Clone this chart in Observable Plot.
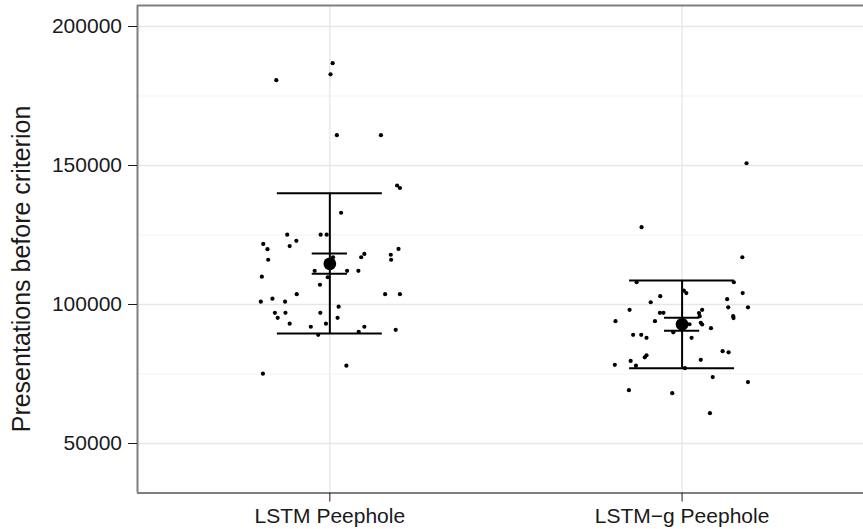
<!DOCTYPE html>
<html>
<head>
<meta charset="utf-8">
<script src="https://cdn.jsdelivr.net/npm/d3@7"></script>
<script src="https://cdn.jsdelivr.net/npm/@observablehq/plot@0.6"></script>
<style>
  html, body { margin: 0; padding: 0; background: #ffffff; }
  #chart { width: 863px; height: 529px; }
</style>
</head>
<body>
<div id="chart"></div>
<script>
// ---- data ----
const categories = ["LSTM Peephole", "LSTM\u2212g Peephole"];
const yTicks = [50000, 100000, 150000, 200000];
const yMinorTicks = [75000, 125000, 175000];
const yTitle = "Presentations before criterion";

// group 1: horizontal jitter (category units) and value
const lstmJitter = [0.008, 0.002, -0.152, 0.020, 0.145, 0.191, 0.199, 0.032, -0.121, -0.026, -0.009, -0.095, -0.189, -0.114, -0.177, 0.195, 0.098, 0.089, 0.173, -0.175, 0.174, 0.009, -0.043, 0.049, 0.081, -0.193, -0.006, -0.028, -0.094, 0.157, 0.199, -0.163, -0.196, -0.127, 0.025, -0.156, -0.126, -0.027, -0.148, 0.022, -0.114, -0.011, -0.054, 0.098, 0.082, 0.187, -0.033, 0.047, -0.190];
const lstmValues = [186800, 182800, 180700, 160900, 160900, 142800, 141900, 133000, 125100, 125100, 125100, 122900, 121800, 121000, 119900, 120000, 118200, 117000, 117900, 116100, 116100, 117000, 112100, 112100, 112100, 110000, 109800, 107100, 103700, 103700, 103700, 102100, 101000, 101000, 99200, 97000, 97000, 97000, 95200, 95200, 93100, 93100, 92000, 92000, 90200, 90900, 89100, 78000, 75100];

// group 2
const lstmgJitter = [-0.115, 0.171, -0.129, 0.147, 0.005, 0.012, 0.172, -0.062, 0.128, -0.089, -0.149, 0.057, 0.131, 0.187, -0.063, -0.053, 0.048, 0.050, 0.145, 0.146, -0.189, -0.077, 0.053, 0.057, 0.021, 0.082, -0.025, -0.139, -0.116, -0.101, 0.027, 0.115, 0.132, -0.106, -0.101, 0.053, -0.146, -0.191, -0.131, 0.008, 0.087, 0.187, -0.151, -0.028, 0.079, 0.183];
const lstmgValues = [127800, 117000, 108000, 108000, 105000, 104100, 104100, 103000, 101900, 100800, 98100, 98100, 99000, 99000, 97000, 97000, 96900, 95800, 95800, 95100, 94000, 94000, 93400, 92800, 92900, 91500, 90000, 89100, 89100, 88000, 88000, 83200, 82800, 81000, 81700, 80100, 79700, 78300, 78000, 77100, 73900, 72100, 69200, 68100, 60900, 150800];

// summary: means, wide bars and narrow bars
const means = [114640, 92860];
const wideLow = [89570, 77090];
const wideHigh = [140040, 108630];
const narrowLow = [111040, 90530];
const narrowHigh = [118345, 95200];

// ---- build tables ----
const points = [
  ...lstmValues.map((v, i) => ({pos: 1 + lstmJitter[i], value: v})),
  ...lstmgValues.map((v, i) => ({pos: 2 + lstmgJitter[i], value: v}))
];
const summary = categories.map((c, i) => ({
  pos: i + 1, mean: means[i],
  wLo: wideLow[i], wHi: wideHigh[i], nLo: narrowLow[i], nHi: narrowHigh[i]
}));

const wideHalf = 0.149;
const narrowHalf = 0.05;
const xDomain = [0.454, 2.515];
const yDomain = [32160, 207550];

const chart = Plot.plot({
  width: 863,
  height: 529,
  marginLeft: 137,
  marginRight: 0,
  marginTop: 5,
  marginBottom: 36.4,
  style: {
    fontFamily: "'Liberation Sans', Arial, Helvetica, sans-serif",
    fontSize: "21px",
    color: "#1a1a1a",
    background: "#ffffff"
  },
  x: {domain: xDomain, axis: null},
  y: {domain: yDomain, axis: null},
  marks: [
    Plot.ruleY(yMinorTicks, {stroke: "#f3f3f3", strokeWidth: 1.2}),
    Plot.ruleY(yTicks, {stroke: "#e6e6e6", strokeWidth: 1.3}),
    Plot.ruleX([1, 2], {stroke: "#e6e6e6", strokeWidth: 1.3}),
    Plot.dot(points, {x: "pos", y: "value", r: 2.1, fill: "#000000", stroke: null}),
    Plot.ruleX(summary, {x: "pos", y1: "wLo", y2: "wHi", stroke: "#000000", strokeWidth: 2}),
    Plot.ruleY(summary, {y: "wHi", x1: d => d.pos - wideHalf, x2: d => d.pos + wideHalf, stroke: "#000000", strokeWidth: 2}),
    Plot.ruleY(summary, {y: "wLo", x1: d => d.pos - wideHalf, x2: d => d.pos + wideHalf, stroke: "#000000", strokeWidth: 2}),
    Plot.ruleY(summary, {y: "nHi", x1: d => d.pos - narrowHalf, x2: d => d.pos + narrowHalf, stroke: "#000000", strokeWidth: 2}),
    Plot.ruleY(summary, {y: "nLo", x1: d => d.pos - narrowHalf, x2: d => d.pos + narrowHalf, stroke: "#000000", strokeWidth: 2}),
    Plot.dot(summary, {x: "pos", y: "mean", r: 6.4, fill: "#000000", stroke: null}),
    // panel border (left, top, bottom; right edge lies beyond the picture)
    Plot.ruleX([xDomain[0]], {stroke: "#7f7f7f", strokeWidth: 2}),
    Plot.ruleY([yDomain[0], yDomain[1]], {stroke: "#7f7f7f", strokeWidth: 2}),
    Plot.axisY({ticks: yTicks, tickSize: 9, tickPadding: 6.5, tickFormat: d => d3.format("d")(d), label: null}),
    Plot.axisX({ticks: [1, 2], tickSize: 9, tickPadding: 6, tickFormat: d => categories[d - 1], label: null})
  ]
});

document.getElementById("chart").appendChild(chart);

// axis title
d3.select(chart).append("text")
  .attr("transform", "translate(30,269) rotate(-90)")
  .attr("text-anchor", "middle")
  .attr("fill", "#1a1a1a")
  .style("font-size", "25px")
  .style("font-family", "'Liberation Sans', Arial, Helvetica, sans-serif")
  .text(yTitle);
</script>
</body>
</html>
